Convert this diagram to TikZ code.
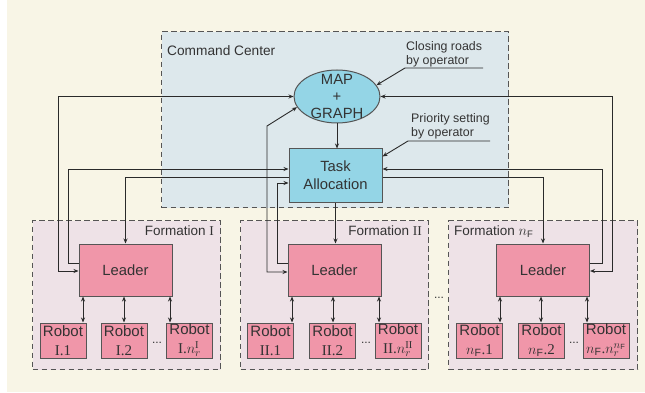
\documentclass[tikz,border=0pt]{standalone}
\usepackage{fontspec}
\setmainfont{Liberation Serif}
\setsansfont{Liberation Sans}
\usetikzlibrary{arrows.meta,shapes.geometric,calc}
\definecolor{bgc}{HTML}{F8F5E6}
\definecolor{ccc}{HTML}{DDE8EC}
\definecolor{fmc}{HTML}{EEE2E7}
\definecolor{cyn}{HTML}{94D5E6}
\definecolor{pnk}{HTML}{F096A9}
\definecolor{txt}{HTML}{333333}
\definecolor{lnc}{HTML}{2A2A2A}
\definecolor{dsh}{HTML}{555555}
\begin{document}
\begin{tikzpicture}[x=1pt,y=-1pt,
  container/.style={draw=dsh, line width=1.3pt, dash pattern=on 5.5pt off 3.5pt, fill=#1, inner sep=0pt, anchor=north west},
  boxbase/.style={draw=dsh, line width=1pt, inner sep=0pt, align=center, text=txt},
  leaderbox/.style={boxbase, fill=pnk, minimum width=93pt, minimum height=52pt, font=\sffamily\fontsize{14.8}{17}\selectfont},
  robotbox/.style={boxbase, fill=pnk, minimum width=46pt, minimum height=35pt, font=\sffamily\fontsize{15}{18.5}\selectfont},
  tabox/.style={boxbase, fill=cyn, minimum width=93pt, minimum height=53pt, font=\sffamily\fontsize{14.8}{18}\selectfont},
  mapell/.style={draw=dsh, line width=1pt, fill=cyn, ellipse, minimum width=86pt, minimum height=53pt, inner sep=0pt},
  maptext/.style={align=center, text=txt, inner sep=0pt, font=\sffamily\fontsize{14.8}{17}\selectfont},
  optxt/.style={align=left, text=txt, inner sep=0pt, font=\sffamily\fontsize{12.4}{14}\selectfont},
  grptxt/.style={text=txt, inner sep=0pt, font=\sffamily\fontsize{13.5}{16}\selectfont},
  dotstxt/.style={text=txt, inner sep=0pt, anchor=base, font=\sffamily\fontsize{12}{14}\selectfont},
  conn/.style={draw=lnc, line width=0.9pt, -{Stealth[length=5pt,width=4pt]}},
  biconn/.style={draw=lnc, line width=0.9pt, {Stealth[length=5pt,width=4pt]}-{Stealth[length=5pt,width=4pt]}}
]
\useasboundingbox (0,0) rectangle (645,393);
\fill[bgc] (7,0) rectangle (645,392);

% containers
\node[container=ccc, minimum width=347pt, minimum height=176pt] (cc) at (161,31) {};
\node[container=fmc, minimum width=188pt, minimum height=149pt] (f1) at (32,220) {};
\node[container=fmc, minimum width=188pt, minimum height=149pt] (f2) at (240,220) {};
\node[container=fmc, minimum width=189pt, minimum height=149pt] (f3) at (448,220) {};

\node[grptxt, anchor=west, font=\sffamily\fontsize{13.7}{16}\selectfont] (cctxt) at (167,51) {Command Center};
\node[grptxt, anchor=east] (f1txt) at (214,231) {Formation {\rmfamily I}};
\node[grptxt, anchor=east] (f2txt) at (422,231) {Formation {\rmfamily II}};
\node[grptxt, anchor=west] (f3txt) at (454,232) {Formation $n_{\mathsf{F}}$};

% main nodes
\node[mapell] (map) at (337,96.5) {};
\node[maptext] (maptxt) at (337,96.5) {MAP\\+\\GRAPH};
\node[tabox] (ta) at (335.5,175.5) {Task\\Allocation};

\node[leaderbox] (L1) at (125.5,270) {Leader};
\node[leaderbox] (L2) at (334.5,270) {Leader};
\node[leaderbox] (L3) at (543,270) {Leader};

\node[robotbox] (r11) at (63,340.5) {Robot\\{\rmfamily I.1}};
\node[robotbox] (r12) at (124,340.5) {Robot\\{\rmfamily I.2}};
\node[robotbox] (r1n) at (189.5,340.5) {Robot\\{\rmfamily I.$n_r^{\mathrm{I}}$}};
\node[robotbox] (r21) at (270.5,340.5) {Robot\\{\rmfamily II.1}};
\node[robotbox] (r22) at (332.5,340.5) {Robot\\{\rmfamily II.2}};
\node[robotbox] (r2n) at (398,340.5) {Robot\\{\rmfamily II.$n_r^{\mathrm{II}}$}};
\node[robotbox] (r31) at (479.5,340.5) {Robot\\{\rmfamily $n_{\mathsf{F}}$.1}};
\node[robotbox] (r32) at (541.5,340.5) {Robot\\{\rmfamily $n_{\mathsf{F}}$.2}};
\node[robotbox] (r3n) at (606,340.5) {Robot\\{\rmfamily $n_{\mathsf{F}}$.$n_r^{n_{\mathsf{F}}}$}};

\node[dotstxt] (d1) at (157,343) {...};
\node[dotstxt] (d2) at (366,343) {...};
\node[dotstxt] (d3) at (574,343) {...};
\node[dotstxt] (d4) at (439,298) {...};

% operator annotations
\node[optxt, anchor=west] (op1) at (406,54) {Closing roads\\by operator};
\node[optxt, anchor=west] (op2) at (411,126) {Priority setting\\by operator};
\coordinate (o1) at (483,68);
\coordinate (o1b) at (405,68);
\draw[conn] (o1) -- (o1b) -- (map.16);
\coordinate (o2) at (490,141);
\coordinate (o2b) at (408,141);
\draw[conn] (o2) -- (o2b) -- ([yshift=-8pt]ta.north east);

% command-level connectors
\draw[conn] (map.south) -- (map.south |- ta.north);
\draw[conn] (ta.south) -- (ta.south |- L2.north);

\coordinate (k1) at (58,96.5);
\draw[biconn] ([yshift=-1pt]L1.west) -| (k1) -- (map.west);
\coordinate (k2) at (68,169);
\draw[conn] ([yshift=7pt]L1.west) -| (k2) -- (ta.west |- k2);
\coordinate (k3) at (0,177);
\draw[conn] (ta.west |- k3) -| (L1.north);

\coordinate (k4) at (277,183);
\draw[conn] ([yshift=7pt]L2.west) -| (k4) -- (ta.west |- k4);
\coordinate (k5) at (267,126);
\draw[biconn] ([yshift=-2pt]L2.west) -| (k5) -- (map.195);

\coordinate (k8) at (612,96.5);
\draw[biconn] ([yshift=-1pt]L3.east) -| (k8) -- (map.east);
\coordinate (k9) at (602,169);
\draw[conn] ([yshift=7pt]L3.east) -| (k9) -- (ta.east |- k9);
\draw[conn] (ta.east |- k3) -| (L3.north);

% leader-robot links
\foreach \x/\L/\R in {83/L1/r11, 124/L1/r12, 170/L1/r1n, 292/L2/r21, 333/L2/r22, 379/L2/r2n, 500/L3/r31, 541/L3/r32, 587/L3/r3n}{
  \coordinate (ax) at (\x,0);
  \draw[biconn] (\L.south -| ax) -- (\R.north -| ax);
}
\end{tikzpicture}
\end{document}
